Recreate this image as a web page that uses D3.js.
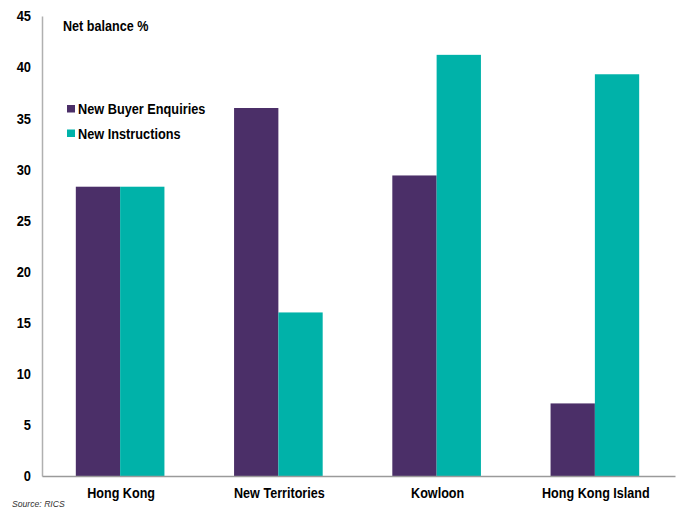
<!DOCTYPE html>
<html>
<head>
<meta charset="utf-8">
<script src="https://cdn.jsdelivr.net/npm/d3@7"></script>
<style>
  html, body { margin: 0; padding: 0; background: #fff; }
  svg text { font-family: "Liberation Sans", Arial, sans-serif; }
</style>
</head>
<body>
<svg id="chart" width="682" height="509"></svg>
<script>
// Net balance % by region, RICS survey
const categories = ["Hong Kong", "New Territories", "Kowloon", "Hong Kong Island"];
const seriesNames = ["New Buyer Enquiries", "New Instructions"];
const buyerEnquiries = [28.3, 36.0, 29.4, 7.1];
const newInstructions = [28.3, 16.0, 41.2, 39.3];
const yTicks = [0, 5, 10, 15, 20, 25, 30, 35, 40, 45];
const colors = ["#4B2F68", "#00B2A9"];

const svg = d3.select("#chart");
const margin = { left: 42, right: 7, top: 16, bottom: 33 };
const W = 682, H = 509;

// squeeze text horizontally to get a narrow typeface look
function narrow(sel, k) {
  sel.each(function () {
    const t = d3.select(this);
    const x = +t.attr("x") || 0;
    t.attr("x", x / k).attr("transform", `scale(${k},1)`);
  });
}

const x0 = d3.scaleBand().domain(categories)
  .range([margin.left, W - margin.right]).paddingInner(0.44).paddingOuter(0.22);
const x1 = d3.scaleBand().domain(seriesNames).range([0, x0.bandwidth()]);
const y = d3.scaleLinear().domain([0, 45]).range([H - margin.bottom, margin.top]);

const rows = categories.map((c, i) => ({
  cat: c,
  vals: [buyerEnquiries[i], newInstructions[i]]
}));

// bars
const groups = svg.append("g").selectAll("g").data(rows).join("g")
  .attr("transform", d => `translate(${x0(d.cat) - 1},0)`);
groups.selectAll("rect").data(d => d.vals.map((v, j) => ({ v, j })))
  .join("rect")
  .attr("x", d => x1(seriesNames[d.j]))
  .attr("width", x1.bandwidth())
  .attr("y", d => y(d.v))
  .attr("height", d => y(0) - y(d.v))
  .attr("fill", d => colors[d.j]);

// y axis
const yAxis = svg.append("g").attr("transform", `translate(${margin.left},0)`)
  .call(d3.axisLeft(y).tickValues(yTicks).tickSize(0).tickPadding(11));
yAxis.select(".domain").attr("stroke", "#b0b0b0").attr("stroke-width", 1.5);
yAxis.selectAll("text").attr("font-size", 15).attr("font-weight", "bold").attr("fill", "#000")
  .call(narrow, 0.86);

// x axis
const xAxis = svg.append("g").attr("transform", `translate(0,${y(0)})`)
  .call(d3.axisBottom(x0).tickSize(0).tickPadding(11));
xAxis.select(".domain").attr("stroke", "#9a9a9a").attr("stroke-width", 1.5);
xAxis.selectAll("text").attr("font-size", 15).attr("font-weight", "bold").attr("fill", "#000")
  .call(narrow, 0.84);

// axis title
svg.append("text").attr("x", 63).attr("y", 31)
  .attr("font-size", 15).attr("font-weight", "bold").attr("fill", "#000")
  .text("Net balance %")
  .call(narrow, 0.84);

// legend
const legend = svg.append("g").selectAll("g").data(seriesNames).join("g")
  .attr("transform", (d, i) => `translate(67,${105 + i * 24.5})`);
legend.append("rect").attr("width", 8).attr("height", 7.5).attr("fill", (d, i) => colors[i]);
legend.append("text").attr("x", 11).attr("y", 9)
  .attr("font-size", 14).attr("font-weight", "bold").attr("fill", "#000")
  .text(d => d)
  .call(narrow, 0.91);

// source
svg.append("text").attr("x", 12).attr("y", 507.5)
  .attr("font-size", 9).attr("font-style", "italic").attr("fill", "#333")
  .text("Source: RICS")
  .call(narrow, 0.96);
</script>
</body>
</html>
